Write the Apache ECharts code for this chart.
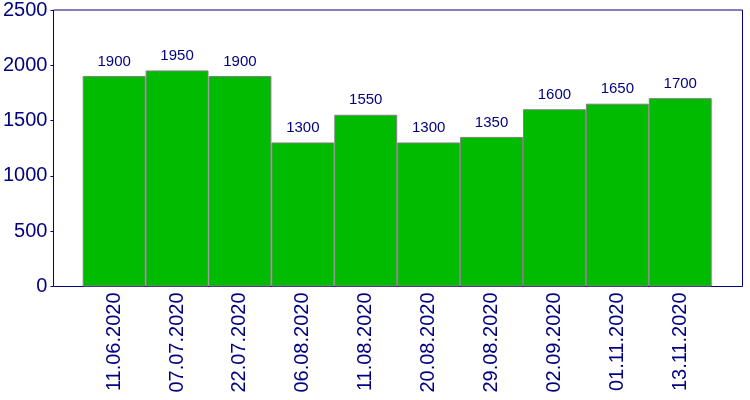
<!DOCTYPE html>
<html><head><meta charset="utf-8">
<script src="https://cdn.jsdelivr.net/npm/echarts@6/dist/echarts.min.js"></script>
<style>html,body{margin:0;padding:0;background:#fff}#c{width:750px;height:400px}</style>
</head><body><div id="c"></div>
<script>
const categories = ['11.06.2020','07.07.2020','22.07.2020','06.08.2020','11.08.2020','20.08.2020','29.08.2020','02.09.2020','01.11.2020','13.11.2020'];
const values = [1900,1950,1900,1300,1550,1300,1350,1600,1650,1700];
const yMin = 0, yMax = 2500, yStep = 500;

const navy = '#000080';
const font = 'Liberation Sans, Arial, sans-serif';
const chart = echarts.init(document.getElementById('c'));
chart.setOption({
  animation: false,
  grid: [
    {left: 50.5, top: 9.5, width: 692, height: 277, show: true, borderColor: navy, borderWidth: 1, backgroundColor: 'transparent'},
    {left: 82.7, top: 9.5, width: 629, height: 277}
  ],
  xAxis: [
    {gridIndex: 0, type: 'value', show: false, min: 0, max: 1},
    {gridIndex: 1, type: 'category', data: categories,
     axisLine: {show: false}, axisTick: {show: false},
     axisLabel: {rotate: 90, fontSize: 20, color: navy, fontFamily: font, margin: 6, interval: 0}}
  ],
  yAxis: [
    {gridIndex: 0, type: 'value', min: yMin, max: yMax, interval: yStep,
     axisLine: {show: false}, splitLine: {show: false},
     axisTick: {show: true, length: 3, lineStyle: {color: navy}},
     axisLabel: {fontSize: 20, color: navy, fontFamily: font, margin: 6, formatter: v => String(v)}},
    {gridIndex: 1, type: 'value', min: yMin, max: yMax, show: false, splitLine: {show: false}}
  ],
  series: [{
    type: 'bar', xAxisIndex: 1, yAxisIndex: 1, data: values,
    barCategoryGap: 0, barGap: 0,
    itemStyle: {color: '#00bb00', borderColor: '#808080', borderWidth: 1},
    label: {show: true, position: 'top', distance: 7, fontSize: 15, color: navy, fontFamily: font}
  }]
});
</script></body></html>
